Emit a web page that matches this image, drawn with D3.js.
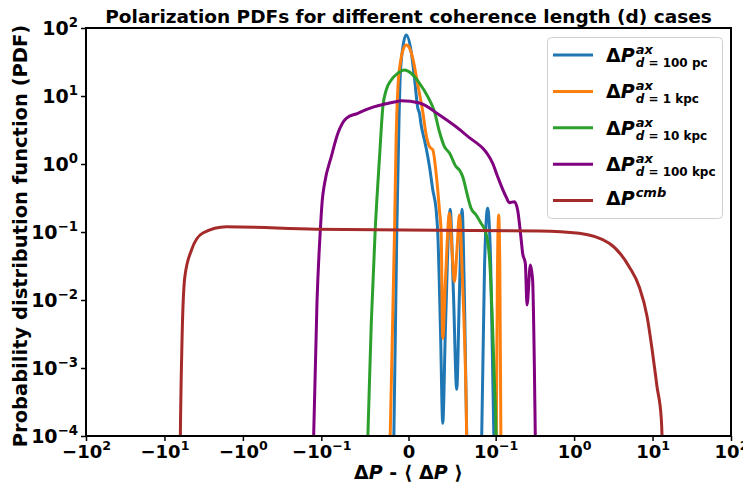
<!DOCTYPE html>
<html>
<head>
<meta charset="utf-8">
<script src="https://cdn.jsdelivr.net/npm/d3@7"></script>
<style>
  body { margin: 0; background: #fff; }
  svg { font-family: "DejaVu Sans", sans-serif; font-weight: bold; }
</style>
</head>
<body>
<div id="chart"></div>
<script>
// x values are dP - <dP>, y values are the PDF
const pc100X = [-0.0185, -0.0168, -0.0134, -0.0109, -0.0097, -0.0069, -0.0026, 0.0031, 0.0069, 0.0107, 0.0126, 0.0145, 0.0183, 0.0203, 0.0241, 0.0279, 0.0317, 0.0336, 0.0367, 0.0393, 0.0424, 0.0478, 0.0516, 0.0553, 0.0584, 0.0615, 0.0641, 0.0661, 0.0690, 0.0815, 0.0840, 0.0872, 0.0908, 0.0944, 0.0979, 0.1000];
const pc100Y = [1e-5, 1e-4, 0.107, 4.44, 17.2, 47.5, 78.9, 44.8, 18.2, 6.59, 5.57, 3.75, 2.25, 1.70, 0.912, 0.415, 0.211, 0.0957, 3.6e-3, 1.54e-4, 4e-3, 0.216, 0.012, 4.86e-4, 0.012, 0.216, 0.012, 3.4e-4, 1e-5, 1e-5, 1e-4, 0.03, 0.223, 0.03, 1e-4, 1e-5];

const kpc1X = [-0.0225, -0.0210, -0.0160, -0.0141, -0.0123, -0.0092, -0.0063, -0.0026, 0.0011, 0.0049, 0.0107, 0.0164, 0.0203, 0.0241, 0.0279, 0.0317, 0.0355, 0.0375, 0.0393, 0.0424, 0.0470, 0.0499, 0.0527, 0.0556, 0.0584, 0.0619, 0.0661, 0.0680, 0.0990, 0.1018, 0.1055, 0.1092, 0.1130, 0.1165, 0.1200];
const kpc1Y = [1e-5, 1e-4, 0.107, 2.67, 12.2, 31.6, 47.5, 56.2, 50.8, 35.8, 14.5, 5.82, 2.67, 1.80, 1.61, 0.730, 0.211, 0.0957, 2.74e-3, 0.0197, 0.188, 0.0543, 0.0186, 0.0543, 0.178, 0.0197, 3.38e-4, 1e-5, 1e-5, 1e-4, 0.03, 0.178, 0.03, 1e-4, 1e-5];

const kpc10X = [-0.0490, -0.0466, -0.0427, -0.0382, -0.0332, -0.0294, -0.0256, -0.0198, -0.0123, -0.0046, 0.0031, 0.0126, 0.0221, 0.0298, 0.0355, 0.0412, 0.0470, 0.0546, 0.0584, 0.0622, 0.0680, 0.0718, 0.0776, 0.0833, 0.0885, 0.0928, 0.0959, 0.0985, 0.1012, 0.1030];
const kpc10Y = [1e-5, 1e-4, 4.59e-3, 0.107, 1.28, 6.97, 12.2, 17.2, 21.6, 24.1, 21.6, 15.4, 9.77, 5.88, 2.98, 1.80, 1.45, 0.912, 0.816, 0.650, 0.330, 0.223, 0.178, 0.134, 0.10, 0.0434, 6.44e-3, 6.67e-4, 1e-4, 1e-5];

const kpc100X = [-0.130, -0.1253, -0.1137, -0.1030, -0.0989, -0.0962, -0.0886, -0.0810, -0.0714, -0.0581, -0.0447, -0.0141, -0.0084, 0.0126, 0.0355, 0.0661, 0.0966, 0.1061, 0.1356, 0.1496, 0.1730, 0.1905, 0.2104, 0.2208, 0.2388, 0.2512, 0.2767, 0.2958, 0.311, 0.320, 0.326];
const kpc100Y = [1e-5, 1e-4, 9.04e-3, 0.107, 0.296, 0.526, 1.28, 2.83, 4.70, 5.57, 6.59, 8.25, 8.53, 7.89, 5.26, 2.67, 1.02, 0.650, 0.330, 0.270, 0.279, 0.211, 0.0817, 0.0486, 0.0347, 8.44e-3, 0.0327, 0.0197, 1.17e-3, 1e-4, 1e-5];

const cmbX = [-6.5, -6.27, -6.23, -5.94, -5.50, -4.52, -3.24, -1.62, -0.116, 0.36, 1.16, 2.80, 5.03, 6.75, 8.53, 9.89, 11.4, 12.9, 13.2, 13.6];
const cmbY = [1e-5, 1e-4, 1.84e-4, 3.27e-3, 0.0218, 0.0543, 0.0967, 0.1197, 0.1096, 0.1034, 0.0957, 0.0682, 0.0309, 0.0157, 5.68e-3, 1.84e-3, 5.31e-4, 1.84e-4, 1e-4, 1e-5];

const seriesX = [pc100X, kpc1X, kpc10X, kpc100X, cmbX];
const seriesY = [pc100Y, kpc1Y, kpc10Y, kpc100Y, cmbY];
const seriesSub = ["100 pc", "1 kpc", "10 kpc", "100 kpc", null];
const seriesSup = ["ax", "ax", "ax", "ax", "cmb"];
const colors = ["#1f77b4", "#ff7f0e", "#2ca02c", "purple", "brown"];

const xTicks = [-100, -10, -1, -0.1, 0, 0.1, 1, 10, 100];
const yTicks = [1e-4, 1e-3, 1e-2, 1e-1, 1, 10, 100];

const W = 743, H = 483;
const margin = { top: 28, right: 12, bottom: 47, left: 86 };
const width = W - margin.left - margin.right,
      height = H - margin.top - margin.bottom;

// symlog like matplotlib: linthresh 0.1, linscale 1
const linThresh = 0.1, linW = 1 / (1 - 1 / 10);
const symT = v => {
    const a = Math.abs(v);
    return a <= linThresh ? v / linThresh * linW : Math.sign(v) * (linW + Math.log10(a / linThresh));
};

const xT = d3.scaleLinear().domain([symT(-100), symT(100)]).range([0, width]);
const x = v => xT(symT(v));
const y = d3.scaleLog().domain([1e-4, 1e2]).range([height, 0]);

const svg = d3.select("#chart").append("svg")
    .attr("width", W).attr("height", H);

const g = svg.append("g").attr("transform", `translate(${margin.left},${margin.top})`);

g.append("clipPath").attr("id", "clip")
    .append("rect").attr("width", width).attr("height", height);

const sciLabel = (t, v) => {
    t.text(null);
    if (v === 0) { t.text("0"); return; }
    const e = Math.round(Math.log10(Math.abs(v)));
    t.append("tspan").text((v < 0 ? "\u2212" : "") + "10");
    t.append("tspan").attr("dy", "-0.6em").attr("font-size", "0.7em")
        .text(e < 0 ? "\u2212" + (-e) : e);
};

const xAxis = g.append("g")
    .attr("transform", `translate(0,${height})`)
    .call(d3.axisBottom(xT).tickValues(xTicks.map(symT)).tickSize(5).tickPadding(4).tickFormat(""));
xAxis.selectAll(".tick text").each(function (d, i) { sciLabel(d3.select(this), xTicks[i]); });

const yAxis = g.append("g")
    .call(d3.axisLeft(y).tickValues(yTicks).tickSize(5).tickPadding(3).tickFormat(""));
yAxis.selectAll(".tick text").each(function (d) { sciLabel(d3.select(this), d); });

g.selectAll(".domain").remove();
g.selectAll(".tick line").attr("stroke", "#000").attr("stroke-width", 1.5);
g.selectAll(".tick text").attr("fill", "#000").attr("font-family", "DejaVu Sans").attr("font-weight", "bold");
yAxis.selectAll(".tick text").attr("font-size", 19);
xAxis.selectAll(".tick text").attr("font-size", 18);

const line = d3.line().x(d => x(d[0])).y(d => y(d[1])).curve(d3.curveMonotoneX);

const plot = g.append("g").attr("clip-path", "url(#clip)");
seriesX.forEach((xs, i) => {
    plot.append("path")
        .datum(xs.map((v, j) => [v, seriesY[i][j]]))
        .attr("fill", "none")
        .attr("stroke", colors[i])
        .attr("stroke-width", 3)
        .attr("stroke-linejoin", "round")
        .attr("d", line);
});

g.append("rect")
    .attr("width", width).attr("height", height)
    .attr("fill", "none").attr("stroke", "#000").attr("stroke-width", 2);

// title and axis labels
svg.append("text")
    .attr("x", margin.left + width / 2).attr("y", 23)
    .attr("text-anchor", "middle").attr("font-size", 18.5)
    .text("Polarization PDFs for different coherence length (d) cases");

svg.append("text")
    .attr("transform", `translate(27,${margin.top + height / 2 + 4}) rotate(-90)`)
    .attr("text-anchor", "middle").attr("font-size", 19.5)
    .text("Probability distribution function (PDF)");

const xl = svg.append("text")
    .attr("x", margin.left + width / 2).attr("y", 479)
    .attr("text-anchor", "middle").attr("font-size", 19);
xl.append("tspan").text("\u0394");
xl.append("tspan").attr("font-style", "italic").text("P");
xl.append("tspan").text(" - \u27e8 \u0394");
xl.append("tspan").attr("font-style", "italic").text("P");
xl.append("tspan").text(" \u27e9");

// legend
const leg = svg.append("g");
leg.append("rect")
    .attr("x", 547.5).attr("y", 37.5).attr("width", 175).attr("height", 181).attr("rx", 4)
    .attr("fill", "#fff").attr("fill-opacity", 0.8).attr("stroke", "#d0d0d0").attr("stroke-width", 1);

seriesSup.forEach((sup, i) => {
    const ry = 55 + i * 36.4;
    leg.append("line")
        .attr("x1", 553).attr("x2", 593).attr("y1", ry).attr("y2", ry)
        .attr("stroke", colors[i]).attr("stroke-width", 3);
    const base = seriesSub[i] ? ry + 7 : ry + 4;
    const main = leg.append("text").attr("x", 606).attr("y", base).attr("font-size", 19);
    main.append("tspan").text("\u0394");
    main.append("tspan").attr("font-style", "italic").text("P");
    const sx = 606 + main.node().getComputedTextLength() + 1;
    leg.append("text").attr("x", sx).attr("y", base - 8)
        .attr("font-size", 13).attr("font-style", "italic").text(sup);
    if (seriesSub[i]) {
        const st = leg.append("text").attr("x", sx).attr("y", base + 5).attr("font-size", 12);
        st.append("tspan").attr("font-style", "italic").text("d");
        st.append("tspan").text(" = " + seriesSub[i]);
    }
});
</script>
</body>
</html>
